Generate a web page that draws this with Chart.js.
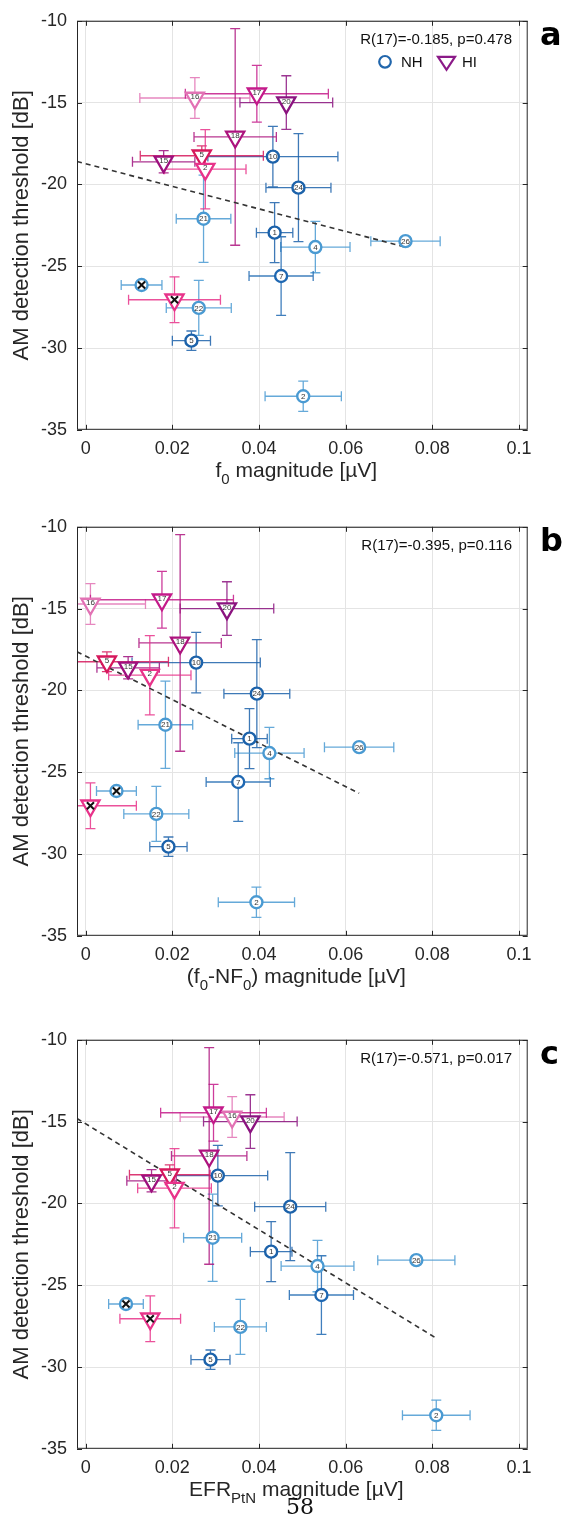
<!DOCTYPE html>
<html>
<head>
<meta charset="utf-8">
<script src="https://cdn.jsdelivr.net/npm/chart.js@4.4.0/dist/chart.umd.min.js"></script>
<style>
body { margin: 0; background: #fff; }
#wrap { position: relative; width: 572px; height: 1523px; }
canvas { position: absolute; left: 0; }
#page { position: absolute; left: 0; width: 600px; top: 1494px; text-align: center;
        font-family: "DejaVu Serif", "Liberation Serif", serif; font-size: 22px; color: #111; }
</style>
</head>
<body>
<div id="wrap">
<canvas id="ca" width="572" height="506" style="top:0px"></canvas>
<canvas id="cb" width="572" height="506" style="top:506px"></canvas>
<canvas id="cc" width="572" height="506" style="top:1019px"></canvas>
<div id="page">58</div>
</div>
<script>
// subjects ('x' = marked with a cross, no number)
var nhIds = ['10', '24', '21', '1', '4', '26', '7', '22', '5', '2', 'x'];
var hiIds = ['16', '17', '20', '18', '5', '15', '2', 'x'];

// AM detection threshold [dB] (same in all panels) and its error
var nhY    = [-18.3, -20.2, -22.1, -22.95, -23.83, -23.47, -25.6, -27.55, -29.55, -32.95, -26.15];
var nhYErr = [1.85, 3.3, 2.67, 1.83, 1.57, 0, 2.4, 1.68, 0.59, 0.92, 0];
var hiY    = [-14.72, -14.46, -15.0, -17.1, -18.25, -18.62, -19.07, -27.05];
var hiYErr = [1.25, 1.73, 1.64, 6.62, 0.6, 0.68, 2.42, 1.4];

// panel a: f0 magnitude [uV]
var nhXa    = [0.0432, 0.0491, 0.0272, 0.0436, 0.053, 0.0738, 0.0451, 0.0261, 0.0244, 0.0502, 0.0129];
var nhXErrA = [0.015, 0.0075, 0.0063, 0.0042, 0.008, 0.008, 0.0074, 0.0075, 0.0044, 0.0088, 0.0047];
var hiXa    = [0.0252, 0.0395, 0.0463, 0.0345, 0.0268, 0.018, 0.0276, 0.0205];
var hiXErrA = [0.0127, 0.0165, 0.0107, 0.0095, 0.0142, 0.0072, 0.0094, 0.0106];
var fitXa = [-0.002, 0.0738];
var fitYa = [-18.6, -23.83];

// panel b: (f0-NF0) magnitude [uV]
var nhXb    = [0.0255, 0.0395, 0.0184, 0.0378, 0.0424, 0.0631, 0.0352, 0.0163, 0.0191, 0.0394, 0.0071];
var nhXErrB = [0.0148, 0.0076, 0.0063, 0.0041, 0.008, 0.008, 0.0074, 0.0075, 0.0043, 0.0088, 0.0046];
var hiXb    = [0.0011, 0.0176, 0.0326, 0.0218, 0.0049, 0.0098, 0.0148, 0.0011];
var hiXErrB = [0.0127, 0.0165, 0.0108, 0.0095, 0.0142, 0.0072, 0.0095, 0.0106];
var fitXb = [-0.002, 0.0631];
var fitYb = [-17.64, -26.29];

// panel c: EFR_PtN magnitude [uV]
var nhXc    = [0.0305, 0.0472, 0.0293, 0.0428, 0.0535, 0.0763, 0.0544, 0.0357, 0.0288, 0.0809, 0.0093];
var nhXErrC = [0.0115, 0.0082, 0.0067, 0.0048, 0.0084, 0.0089, 0.0074, 0.006, 0.0045, 0.0078, 0.004];
var hiXc    = [0.0338, 0.0295, 0.038, 0.0285, 0.0194, 0.0152, 0.0205, 0.0149];
var hiXErrC = [0.012, 0.0122, 0.0108, 0.0087, 0.0093, 0.0057, 0.0085, 0.007];
var fitXc = [-0.002, 0.0809];
var fitYc = [-14.81, -28.24];

var xTicks = [0, 0.02, 0.04, 0.06, 0.08, 0.1];
var yTicks = [-35, -30, -25, -20, -15, -10];

var nhColors = ['#1c62aa', '#1c62aa', '#4a9ad2', '#1c62aa', '#4a9ad2', '#4a9ad2',
                '#1f68b2', '#4a9ad2', '#1c62aa', '#4a9ad2', '#4a9ad2'];
var hiColors = ['#e272b4', '#c41a8a', '#8b137f', '#ad137e', '#d6185c', '#9e107e', '#e8338a', '#e8338a'];

var FONT = '"Liberation Sans", Arial, Helvetica, sans-serif';

function pts(xs, ys) {
	return xs.map(function (v, i) { return { x: v, y: ys[i] }; });
}

function hexA(hex, a) {
	var n = parseInt(hex.slice(1), 16);
	return 'rgba(' + (n >> 16) + ',' + ((n >> 8) & 255) + ',' + (n & 255) + ',' + a + ')';
}

function drawSubText(ctx, parts, cx, y, size) {
	var total = 0;
	parts.forEach(function (p) {
		ctx.font = (p[1] ? Math.round(size * 0.72) : size) + 'px ' + FONT;
		p.w = ctx.measureText(p[0]).width;
		total += p.w;
	});
	var x = cx - total / 2;
	ctx.textAlign = 'left';
	ctx.textBaseline = 'alphabetic';
	parts.forEach(function (p) {
		ctx.font = (p[1] ? Math.round(size * 0.72) : size) + 'px ' + FONT;
		ctx.fillText(p[0], x, p[1] ? y + 7 : y);
		x += p.w;
	});
}

function make_panel(canvasId, p) {

	var groups = [
		{ x: p.nhX, xe: p.nhXErr, y: nhY, ye: nhYErr, c: nhColors },
		{ x: p.hiX, xe: p.hiXErr, y: hiY, ye: hiYErr, c: hiColors }
	];

	var crossPts = [];
	nhIds.forEach(function (s, i) { if (s === 'x') crossPts.push({ x: p.nhX[i], y: nhY[i] }); });
	hiIds.forEach(function (s, i) { if (s === 'x') crossPts.push({ x: p.hiX[i], y: hiY[i] }); });

	var panelPlugin = {
		id: 'panel_' + canvasId,
		beforeDatasetsDraw: function (chart) {
			var ctx = chart.ctx, a = chart.chartArea;
			var xs = chart.scales.x, ys = chart.scales.y;
			ctx.save();
			ctx.beginPath();
			ctx.rect(a.left, a.top, a.right - a.left, a.bottom - a.top);
			ctx.clip();
			ctx.lineWidth = 1.3;
			groups.forEach(function (g) {
				g.x.forEach(function (xv, i) {
					var px = xs.getPixelForValue(xv), py = ys.getPixelForValue(g.y[i]);
					ctx.strokeStyle = hexA(g.c[i], 0.85);
					ctx.beginPath();
					if (g.xe[i] > 0) {
						var x1 = xs.getPixelForValue(xv - g.xe[i]), x2 = xs.getPixelForValue(xv + g.xe[i]);
						ctx.moveTo(x1, py); ctx.lineTo(x2, py);
						ctx.moveTo(x1, py - 5); ctx.lineTo(x1, py + 5);
						ctx.moveTo(x2, py - 5); ctx.lineTo(x2, py + 5);
					}
					if (g.ye[i] > 0) {
						var y1 = ys.getPixelForValue(g.y[i] + g.ye[i]), y2 = ys.getPixelForValue(g.y[i] - g.ye[i]);
						ctx.moveTo(px, y1); ctx.lineTo(px, y2);
						ctx.moveTo(px - 5, y1); ctx.lineTo(px + 5, y1);
						ctx.moveTo(px - 5, y2); ctx.lineTo(px + 5, y2);
					}
					ctx.stroke();
				});
			});
			ctx.restore();
		},
		afterDatasetsDraw: function (chart) {
			var ctx = chart.ctx;
			var xs = chart.scales.x, ys = chart.scales.y;
			ctx.save();
			ctx.fillStyle = '#333';
			ctx.font = '8px ' + FONT;
			ctx.textAlign = 'center';
			ctx.textBaseline = 'middle';
			nhIds.forEach(function (s, i) {
				if (s === 'x') return;
				ctx.fillText(s, xs.getPixelForValue(p.nhX[i]), ys.getPixelForValue(nhY[i]) + 0.5);
			});
			hiIds.forEach(function (s, i) {
				if (s === 'x') return;
				ctx.fillText(s, xs.getPixelForValue(p.hiX[i]), ys.getPixelForValue(hiY[i]) - 1);
			});
			ctx.restore();
		},
		afterDraw: function (chart) {
			var ctx = chart.ctx, a = chart.chartArea;
			var xs = chart.scales.x, ys = chart.scales.y;
			ctx.save();
			// box and inward ticks
			ctx.strokeStyle = '#262626';
			ctx.lineWidth = 1;
			ctx.strokeRect(a.left + 0.5, a.top + 0.5, a.right - a.left - 1, a.bottom - a.top - 1);
			ctx.beginPath();
			xTicks.forEach(function (v) {
				var px = Math.round(xs.getPixelForValue(v)) + 0.5;
				ctx.moveTo(px, a.bottom); ctx.lineTo(px, a.bottom - 5);
				ctx.moveTo(px, a.top); ctx.lineTo(px, a.top + 5);
			});
			yTicks.forEach(function (v) {
				var py = Math.round(ys.getPixelForValue(v)) + 0.5;
				ctx.moveTo(a.left, py); ctx.lineTo(a.left + 5, py);
				ctx.moveTo(a.right, py); ctx.lineTo(a.right - 5, py);
			});
			ctx.stroke();

			// axis titles
			ctx.fillStyle = '#262626';
			drawSubText(ctx, p.xTitle, (a.left + a.right) / 2 - 6, a.bottom + 47, 21);
			ctx.save();
			ctx.translate(28, (a.top + a.bottom) / 2);
			ctx.rotate(-Math.PI / 2);
			ctx.font = '22px ' + FONT;
			ctx.textAlign = 'center';
			ctx.textBaseline = 'alphabetic';
			ctx.fillText('AM detection threshold [dB]', 0, 0);
			ctx.restore();

			// statistics
			ctx.fillStyle = '#111';
			ctx.font = '15px ' + FONT;
			ctx.textAlign = 'right';
			ctx.textBaseline = 'alphabetic';
			ctx.fillText(p.stats, 512, a.top + 23);

			// legend
			if (p.legend) {
				var ly = a.top + 41;
				ctx.lineWidth = 2.2;
				ctx.strokeStyle = '#2166ac';
				ctx.beginPath();
				ctx.arc(385, ly, 5.8, 0, Math.PI * 2);
				ctx.stroke();
				ctx.strokeStyle = '#8b1a88';
				ctx.beginPath();
				ctx.moveTo(438, ly - 5); ctx.lineTo(455, ly - 5); ctx.lineTo(446.5, ly + 8);
				ctx.closePath();
				ctx.stroke();
				ctx.fillStyle = '#111';
				ctx.textAlign = 'left';
				ctx.textBaseline = 'middle';
				ctx.fillText('NH', 401, ly + 1);
				ctx.fillText('HI', 462, ly + 1);
			}

			// panel letter
			ctx.fillStyle = '#000';
			ctx.font = 'bold 32px "DejaVu Sans", sans-serif';
			ctx.textAlign = 'left';
			ctx.textBaseline = 'alphabetic';
			ctx.fillText(p.letter, 540, a.top + 24);
			ctx.restore();
		}
	};

	var chart_settings = {
		type: 'scatter',
		data: {
			datasets: [
				{
					data: crossPts,
					pointStyle: 'crossRot',
					pointRadius: 5,
					pointBorderWidth: 2,
					pointBorderColor: '#111',
					pointBackgroundColor: '#111'
				},
				{
					data: pts(p.hiX, hiY),
					pointStyle: 'triangle',
					pointRotation: 180,
					pointRadius: 10.5,
					pointBorderWidth: 2.3,
					pointBorderColor: hiColors,
					pointBackgroundColor: '#fff'
				},
				{
					data: pts(p.nhX, nhY),
					pointStyle: 'circle',
					pointRadius: 6,
					pointBorderWidth: 2.4,
					pointBorderColor: nhColors,
					pointBackgroundColor: '#fff'
				},
				{
					data: pts(p.fitX, p.fitY),
					showLine: true,
					pointRadius: 0,
					borderColor: '#333',
					borderWidth: 1.6,
					borderDash: [5, 4]
				}
			]
		},
		options: {
			responsive: false,
			animation: false,
			devicePixelRatio: 1,
			events: [],
			layout: { padding: { top: 16.3, right: 44.3, left: 0, bottom: 0 } },
			plugins: { legend: { display: false }, tooltip: { enabled: false } },
			scales: {
				x: {
					type: 'linear',
					min: -0.002,
					max: 0.102,
					afterBuildTicks: function (scale) {
						scale.ticks = xTicks.map(function (v) { return { value: v }; });
					},
					afterFit: function (scale) { scale.height = 506 - 16.3 - 413.5; },
					grid: { color: '#e4e4e4', drawTicks: false },
					border: { display: false },
					ticks: {
						padding: 8,
						color: '#262626',
						font: { family: FONT, size: 18 },
						callback: function (v) { return String(+Number(v).toFixed(2)); }
					}
				},
				y: {
					type: 'linear',
					min: -35,
					max: -10,
					afterBuildTicks: function (scale) {
						scale.ticks = yTicks.map(function (v) { return { value: v }; });
					},
					afterFit: function (scale) { scale.width = 77; },
					grid: { color: '#e4e4e4', drawTicks: false },
					border: { display: false },
					ticks: {
						padding: 10,
						color: '#262626',
						font: { family: FONT, size: 18 }
					}
				}
			}
		},
		plugins: [panelPlugin]
	};

	return new Chart(document.getElementById(canvasId), chart_settings);
}

make_panel('ca', {
	nhX: nhXa, nhXErr: nhXErrA, hiX: hiXa, hiXErr: hiXErrA, fitX: fitXa, fitY: fitYa,
	xTitle: [['f', 0], ['0', 1], [' magnitude [\u00b5V]', 0]],
	stats: 'R(17)=-0.185, p=0.478', letter: 'a', legend: true
});
make_panel('cb', {
	nhX: nhXb, nhXErr: nhXErrB, hiX: hiXb, hiXErr: hiXErrB, fitX: fitXb, fitY: fitYb,
	xTitle: [['(f', 0], ['0', 1], ['-NF', 0], ['0', 1], [') magnitude [\u00b5V]', 0]],
	stats: 'R(17)=-0.395, p=0.116', letter: 'b', legend: false
});
make_panel('cc', {
	nhX: nhXc, nhXErr: nhXErrC, hiX: hiXc, hiXErr: hiXErrC, fitX: fitXc, fitY: fitYc,
	xTitle: [['EFR', 0], ['PtN', 1], [' magnitude [\u00b5V]', 0]],
	stats: 'R(17)=-0.571, p=0.017', letter: 'c', legend: false
});
</script>
</body>
</html>
